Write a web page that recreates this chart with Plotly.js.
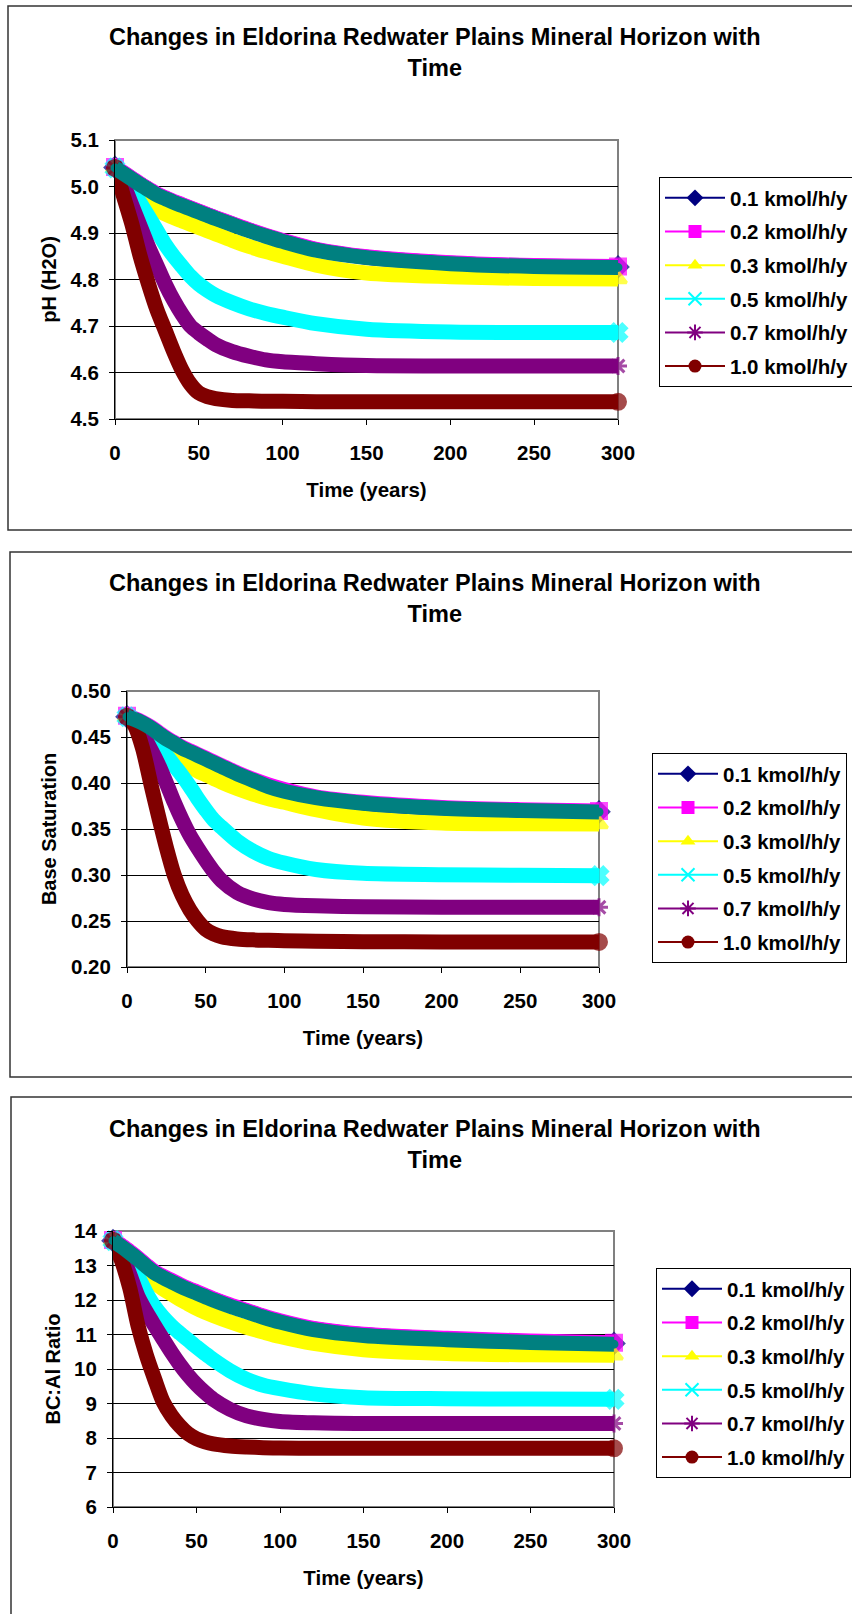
<!DOCTYPE html>
<html><head><meta charset="utf-8">
<script src="https://cdn.plot.ly/plotly-3.0.1.min.js"></script>
<style>html,body{margin:0;padding:0;background:#fff}#chart{width:852px;height:1614px}</style>
</head><body><div id="chart"></div>
<script>
// ---------------- DATA ----------------
const years = [0,5,10,15,20,25,30,35,40,45,50,55,60,70,80,90,100,120,150,200,250,300];
const seriesNames = ['0.1 kmol/h/y','0.2 kmol/h/y','0.3 kmol/h/y','0.5 kmol/h/y','0.7 kmol/h/y','1.0 kmol/h/y'];

// Chart 1: pH (H2O)
const ph01 = [5.041,5.029,5.017,5.005,4.994,4.983,4.975,4.967,4.960,4.953,4.946,4.939,4.932,4.919,4.906,4.894,4.883,4.864,4.848,4.835,4.829,4.827];
const ph02 = [5.042,5.030,5.018,5.006,4.995,4.984,4.976,4.968,4.961,4.954,4.947,4.940,4.933,4.920,4.907,4.895,4.884,4.865,4.849,4.836,4.830,4.828];
const ph03 = [5.040,5.022,5.003,4.985,4.967,4.950,4.941,4.933,4.926,4.919,4.912,4.905,4.898,4.884,4.871,4.860,4.850,4.831,4.814,4.806,4.802,4.801];
const ph05 = [5.040,5.020,4.995,4.965,4.935,4.905,4.875,4.850,4.828,4.807,4.790,4.777,4.766,4.750,4.737,4.727,4.719,4.705,4.693,4.687,4.686,4.686];
const ph07 = [5.040,5.005,4.960,4.915,4.870,4.830,4.790,4.755,4.725,4.700,4.685,4.672,4.660,4.645,4.635,4.627,4.623,4.619,4.615,4.614,4.614,4.614];
const ph10 = [5.040,4.980,4.920,4.850,4.790,4.735,4.690,4.645,4.605,4.575,4.556,4.548,4.544,4.540,4.539,4.538,4.538,4.537,4.537,4.537,4.537,4.537];
const phExtra = [5.040,5.028,5.016,5.004,4.993,4.982,4.974,4.966,4.959,4.952,4.945,4.938,4.931,4.918,4.905,4.893,4.882,4.863,4.847,4.834,4.828,4.826];

// Chart 2: Base Saturation
const bs01 = [0.472,0.469,0.465,0.460,0.454,0.448,0.443,0.438,0.434,0.430,0.426,0.422,0.418,0.410,0.403,0.397,0.392,0.384,0.378,0.3727,0.3702,0.3687];
const bs02 = [0.473,0.470,0.466,0.461,0.455,0.449,0.444,0.439,0.435,0.431,0.427,0.423,0.419,0.411,0.404,0.398,0.393,0.385,0.379,0.3735,0.3710,0.3695];
const bs03 = [0.472,0.467,0.461,0.453,0.444,0.436,0.429,0.423,0.418,0.413,0.409,0.405,0.401,0.394,0.388,0.383,0.379,0.371,0.362,0.3565,0.3556,0.3554];
const bs05 = [0.472,0.467,0.460,0.452,0.441,0.430,0.419,0.408,0.396,0.383,0.371,0.360,0.352,0.337,0.326,0.318,0.313,0.306,0.3018,0.3004,0.2997,0.2993];
const bs07 = [0.472,0.464,0.452,0.437,0.420,0.400,0.379,0.360,0.343,0.329,0.316,0.304,0.294,0.281,0.274,0.270,0.268,0.2665,0.2655,0.2650,0.2650,0.2649];
const bs10 = [0.472,0.462,0.437,0.400,0.364,0.330,0.300,0.278,0.262,0.250,0.241,0.236,0.233,0.2305,0.2295,0.2290,0.2285,0.2280,0.2275,0.2273,0.2272,0.2272];
const bsExtra = [0.472,0.469,0.465,0.460,0.454,0.448,0.443,0.438,0.434,0.430,0.426,0.422,0.418,0.410,0.403,0.396,0.391,0.384,0.378,0.3725,0.3700,0.3685];

// Chart 3: BC:Al Ratio
const bc01 = [13.72,13.57,13.39,13.20,12.99,12.80,12.67,12.55,12.43,12.32,12.22,12.12,12.02,11.84,11.68,11.52,11.38,11.16,10.99,10.87,10.79,10.74];
const bc02 = [13.74,13.59,13.41,13.22,13.01,12.82,12.69,12.57,12.45,12.34,12.24,12.14,12.04,11.86,11.70,11.54,11.40,11.18,11.01,10.89,10.81,10.76];
const bc03 = [13.72,13.48,13.24,12.98,12.73,12.49,12.32,12.17,12.02,11.89,11.76,11.65,11.55,11.37,11.21,11.07,10.94,10.74,10.56,10.45,10.41,10.40];
const bc05 = [13.72,13.45,13.10,12.68,12.20,11.80,11.50,11.25,11.04,10.84,10.64,10.45,10.27,9.95,9.70,9.53,9.43,9.28,9.17,9.14,9.13,9.12];
const bc07 = [13.72,13.35,12.75,12.10,11.65,11.25,10.86,10.48,10.13,9.82,9.55,9.32,9.12,8.83,8.64,8.54,8.48,8.44,8.42,8.42,8.42,8.42];
const bc10 = [13.72,13.15,12.35,11.25,10.40,9.70,9.05,8.65,8.35,8.12,7.98,7.89,7.83,7.77,7.74,7.72,7.71,7.705,7.70,7.70,7.70,7.70];
const bcExtra = [13.72,13.55,13.37,13.18,12.97,12.78,12.65,12.53,12.41,12.30,12.20,12.10,12.00,11.82,11.66,11.50,11.36,11.14,10.97,10.85,10.77,10.72];

// ---------------- STYLE / LAYOUT ----------------
const W = 852, H = 1614;
const fx = p => p / W, fy = p => 1 - p / H;
const colors = ['#000080','#FF00FF','#FFFF00','#00FFFF','#800080','#800000'];
const extraColor = '#008080';
const symbols = ['diamond','square','triangle-up','x-thin','asterisk','circle'];
const endSymbols = ['diamond','square','triangle-up','x','asterisk','circle'];
const FONT = 'Liberation Sans, Arial, sans-serif';
const titleText = 'Changes in Eldorina Redwater Plains Mineral Horizon with<br>Time';

const charts = [
  {series:[ph01,ph02,ph03,ph05,ph07,ph10], extra:phExtra, ytitle:'pH (H2O)', range:[4.5,5.1], dtick:0.1, fmt:'.1f',
   plot:{l:115,r:618,t:140,b:419}, frame:{l:8,t:6,b:530}, titleY:52.5, leg:{x:659,y:177}},
  {series:[bs01,bs02,bs03,bs05,bs07,bs10], extra:bsExtra, ytitle:'Base Saturation', range:[0.2,0.5], dtick:0.05, fmt:'.2f',
   plot:{l:127,r:599,t:691,b:967}, frame:{l:10,t:552,b:1077}, titleY:598.5, leg:{x:652,y:753}},
  {series:[bc01,bc02,bc03,bc05,bc07,bc10], extra:bcExtra, ytitle:'BC:Al Ratio', range:[6,14], dtick:1, fmt:'d',
   plot:{l:113,r:614,t:1231,b:1507}, frame:{l:11,t:1097,b:1660}, titleY:1144, leg:{x:656,y:1268}}
];

const traces = [];
const layout = {
  width: W, height: H,
  margin: {l:0, r:0, t:0, b:0, autoexpand:false},
  paper_bgcolor:'#fff', plot_bgcolor:'#fff',
  font: {family: FONT, color:'#000'},
  showlegend: true,
  hovermode: false,
  shapes: [], annotations: []
};

const endSizes = years.map((_, i) => (i === 0 || i === years.length - 1) ? 15 : 0);

charts.forEach((c, ci) => {
  const suf = ci === 0 ? '' : String(ci + 1);
  const xa = 'x' + suf, ya = 'y' + suf, lg = 'legend' + suf;
  const mainTrace = (vals, color, sym, sizes) => ({
    type:'scatter', x: years, y: vals, xaxis: xa, yaxis: ya,
    mode:'lines+markers', showlegend:false, cliponaxis:false, hoverinfo:'skip',
    line:{color: color, width: 15, shape:'spline', smoothing: 0.8},
    marker:{symbol: sym, size: sizes, color: color, line:{color: color, width: 3}}
  });
  c.series.forEach((vals, si) => traces.push(mainTrace(vals, colors[si], endSymbols[si], endSizes)));
  traces.push(mainTrace(c.extra, extraColor, 'circle', 0));
  // legend entries
  c.series.forEach((vals, si) => {
    const lineSym = symbols[si] === 'x-thin' || symbols[si] === 'asterisk';
    traces.push({
      type:'scatter', x:[null], y:[null], xaxis: xa, yaxis: ya, name: seriesNames[si],
      legend: lg, legendgroup: 'g' + ci + '_' + si, mode:'lines+markers',
      line:{color: colors[si], width: 2},
      marker:{symbol: symbols[si], size: 13, color: colors[si], line:{color: colors[si], width: lineSym ? 2 : 0}}
    });
  });

  const p = c.plot;
  layout['xaxis' + suf] = {
    domain:[fx(p.l), fx(p.r)], anchor: ya, range:[0,300], tick0:0, dtick:50,
    showgrid:false, zeroline:false, showline:true, linecolor:'#000', linewidth:1,
    ticks:'outside', ticklen:5, tickcolor:'#000', tickwidth:1,
    tickfont:{size:20.5, weight:'bold', family:FONT}, ticklabelstandoff: 10,
    title:{text:'Time (years)', font:{size:20.5, weight:'bold', family:FONT}, standoff: 20},
    fixedrange:true
  };
  layout['yaxis' + suf] = {
    domain:[fy(p.b), fy(p.t)], anchor: xa, range:c.range, tick0:c.range[0], dtick:c.dtick, tickformat:c.fmt,
    showgrid:true, gridcolor:'#000', gridwidth:1, zeroline:false, showline:true, linecolor:'#000', linewidth:1,
    ticks:'outside', ticklen:5, tickcolor:'#000', tickwidth:1,
    tickfont:{size:20.5, weight:'bold', family:FONT}, ticklabelstandoff: 6,
    title:{text:c.ytitle, font:{size:20, weight:'bold', family:FONT}, standoff: 8},
    fixedrange:true
  };
  layout[lg] = {
    x: fx(c.leg.x), y: fy(c.leg.y), xanchor:'left', yanchor:'top',
    bgcolor:'#fff', bordercolor:'#000', borderwidth:1,
    font:{size:20.5, weight:'bold', family:FONT, color:'#000'},
    tracegroupgap: 4, itemwidth: 60
  };
  // plot-area frame (gray) and outer chart frame
  layout.shapes.push({type:'rect', xref: xa + ' domain', yref: ya + ' domain', x0:0, x1:1, y0:0, y1:1,
    line:{color:'#808080', width:2}, layer:'below'});
  const f = c.frame;
  layout.shapes.push({type:'rect', xref:'paper', yref:'paper', x0:fx(f.l), x1:fx(W + 20), y0:fy(f.b), y1:fy(f.t),
    line:{color:'#333', width:1.5}, layer:'below'});
  layout.annotations.push({xref:'paper', yref:'paper', x: fx(435), y: fy(c.titleY), xanchor:'center', yanchor:'middle',
    showarrow:false, text: titleText, font:{size:23.5, weight:'bold', family:FONT, color:'#000'}});
});

Plotly.newPlot('chart', traces, layout, {displayModeBar:false, staticPlot:true});
</script>
</body></html>
